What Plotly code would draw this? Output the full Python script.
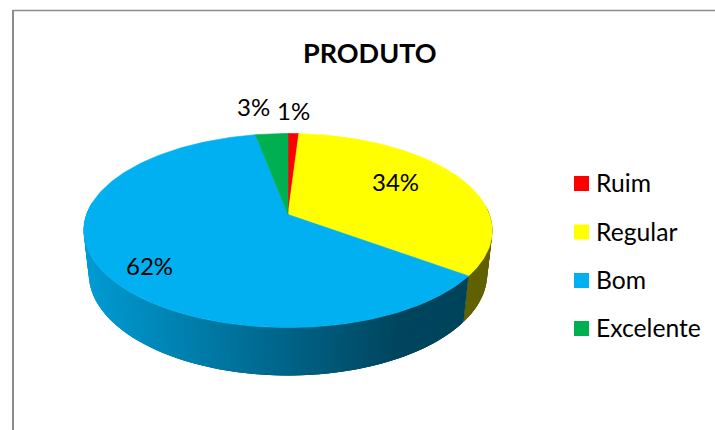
import numpy as np
import plotly.graph_objects as go

# Survey results for the product rating
categories = ["Ruim", "Regular", "Bom", "Excelente"]
values = [1, 34, 62, 3]
colors = ["#ff0000", "#ffff00", "#00b0f0", "#00b050"]
title_text = "PRODUTO"

FONT = "Lato, Carlito, Calibri, sans-serif"

# Perspective model of the tilted disc, in canvas pixels
CX, CY = 288.0, 214.5
RX, RY = 201.5, 94.4
TILT = 0.165
DEPTH, SHRINK = 44.0, 0.025


def rim(theta, lower=False):
    """Project a rim point at clockwise angle theta (radians from 12 o'clock)."""
    z = 1.0 if lower else 0.0
    u, v = np.sin(theta), np.cos(theta)
    w = 1 + TILT * v + SHRINK * z
    return CX + RX * u / w, CY - (RY * v - DEPTH * z) / w


def shade(hex_color, factor):
    r, g, b = (int(hex_color[i:i + 2], 16) for i in (1, 3, 5))
    return f"rgb({r * factor:.0f},{g * factor:.0f},{b * factor:.0f})"


def side_factor(x):
    # Horizontal light falloff on the wall of the pie
    return float(np.interp(x, [85, 400, 495], [0.88, 0.39, 0.38]))


fig = go.Figure()

total = sum(values)
edges = np.cumsum([0] + values) / total * 2 * np.pi


def add_poly(xs, ys, color, width=0.0):
    fig.add_trace(go.Scatter(
        x=xs, y=ys, mode="lines", fill="toself", fillcolor=color,
        line=dict(color=color, width=width), hoverinfo="skip", showlegend=False,
    ))


# Outer wall, built from overlapping strips so the light varies without seams
for start, stop, color in zip(edges[:-1], edges[1:], colors):
    steps = max(2, int(np.degrees(stop - start) / 0.7))
    angles = np.linspace(start, stop, steps + 1)
    step = angles[1] - angles[0]
    for a in angles[:-1]:
        b = min(a + 3 * step, stop)
        # Only the part of the rim facing the viewer is visible
        if np.cos(a) > 0.1:
            continue
        arc = np.linspace(a, b, 4)
        top_x, top_y = rim(arc)
        low_x, low_y = rim(arc[::-1], True)
        f = side_factor(rim(a + step / 2)[0])
        add_poly(
            np.concatenate([top_x, low_x, top_x[:1]]),
            np.concatenate([top_y, low_y, top_y[:1]]),
            shade(color, f),
        )

# Top face slices
for start, stop, color in zip(edges[:-1], edges[1:], colors):
    angles = np.linspace(start, stop, max(3, int(np.degrees(stop - start))))
    xs, ys = rim(angles)
    add_poly(
        np.concatenate([[CX], xs, [CX]]),
        np.concatenate([[CY], ys, [CY]]),
        color,
        width=0.6,
    )

# Percentage labels beside or on each slice
label_pos = [(293, 110), (395.5, 181), (149.5, 265), (253, 106)]
for value, (lx, ly) in zip(values, label_pos):
    fig.add_annotation(
        x=lx, y=ly, text=f"{value}%", showarrow=False,
        font=dict(family=FONT, size=24, color="#000000"),
    )

# Legend column: colour swatch followed by its category name
legend_y = [183.5, 232, 280.5, 328.5]
fig.add_trace(go.Scatter(
    x=[581.5] * 4, y=legend_y, mode="markers",
    marker=dict(symbol="square", size=15, color=colors, line=dict(width=0)),
    hoverinfo="skip", showlegend=False,
))
for name, ly in zip(categories, legend_y):
    fig.add_annotation(
        x=594, y=ly - 1, text=name, showarrow=False, xanchor="left",
        font=dict(family=FONT, size=24.7, color="#000000"),
    )

fig.add_annotation(
    x=370, y=52.5, text=f"<b>{title_text}</b>", showarrow=False,
    font=dict(family=FONT, size=27, color="#000000"),
)

# Chart frame along the top and left edges
fig.add_shape(type="line", x0=13, x1=13, y0=10, y1=430, line=dict(color="#8c8c8c", width=2))
fig.add_shape(type="line", x0=13, x1=715, y0=10.5, y1=10.5, line=dict(color="#8c8c8c", width=1.5))

fig.update_layout(
    width=715, height=430,
    margin=dict(l=0, r=0, t=0, b=0),
    paper_bgcolor="#ffffff", plot_bgcolor="#ffffff",
    xaxis=dict(range=[0, 715], visible=False, fixedrange=True),
    yaxis=dict(range=[430, 0], visible=False, fixedrange=True),
    showlegend=False,
)

fig.write_html("out.html", config=dict(displayModeBar=False))
